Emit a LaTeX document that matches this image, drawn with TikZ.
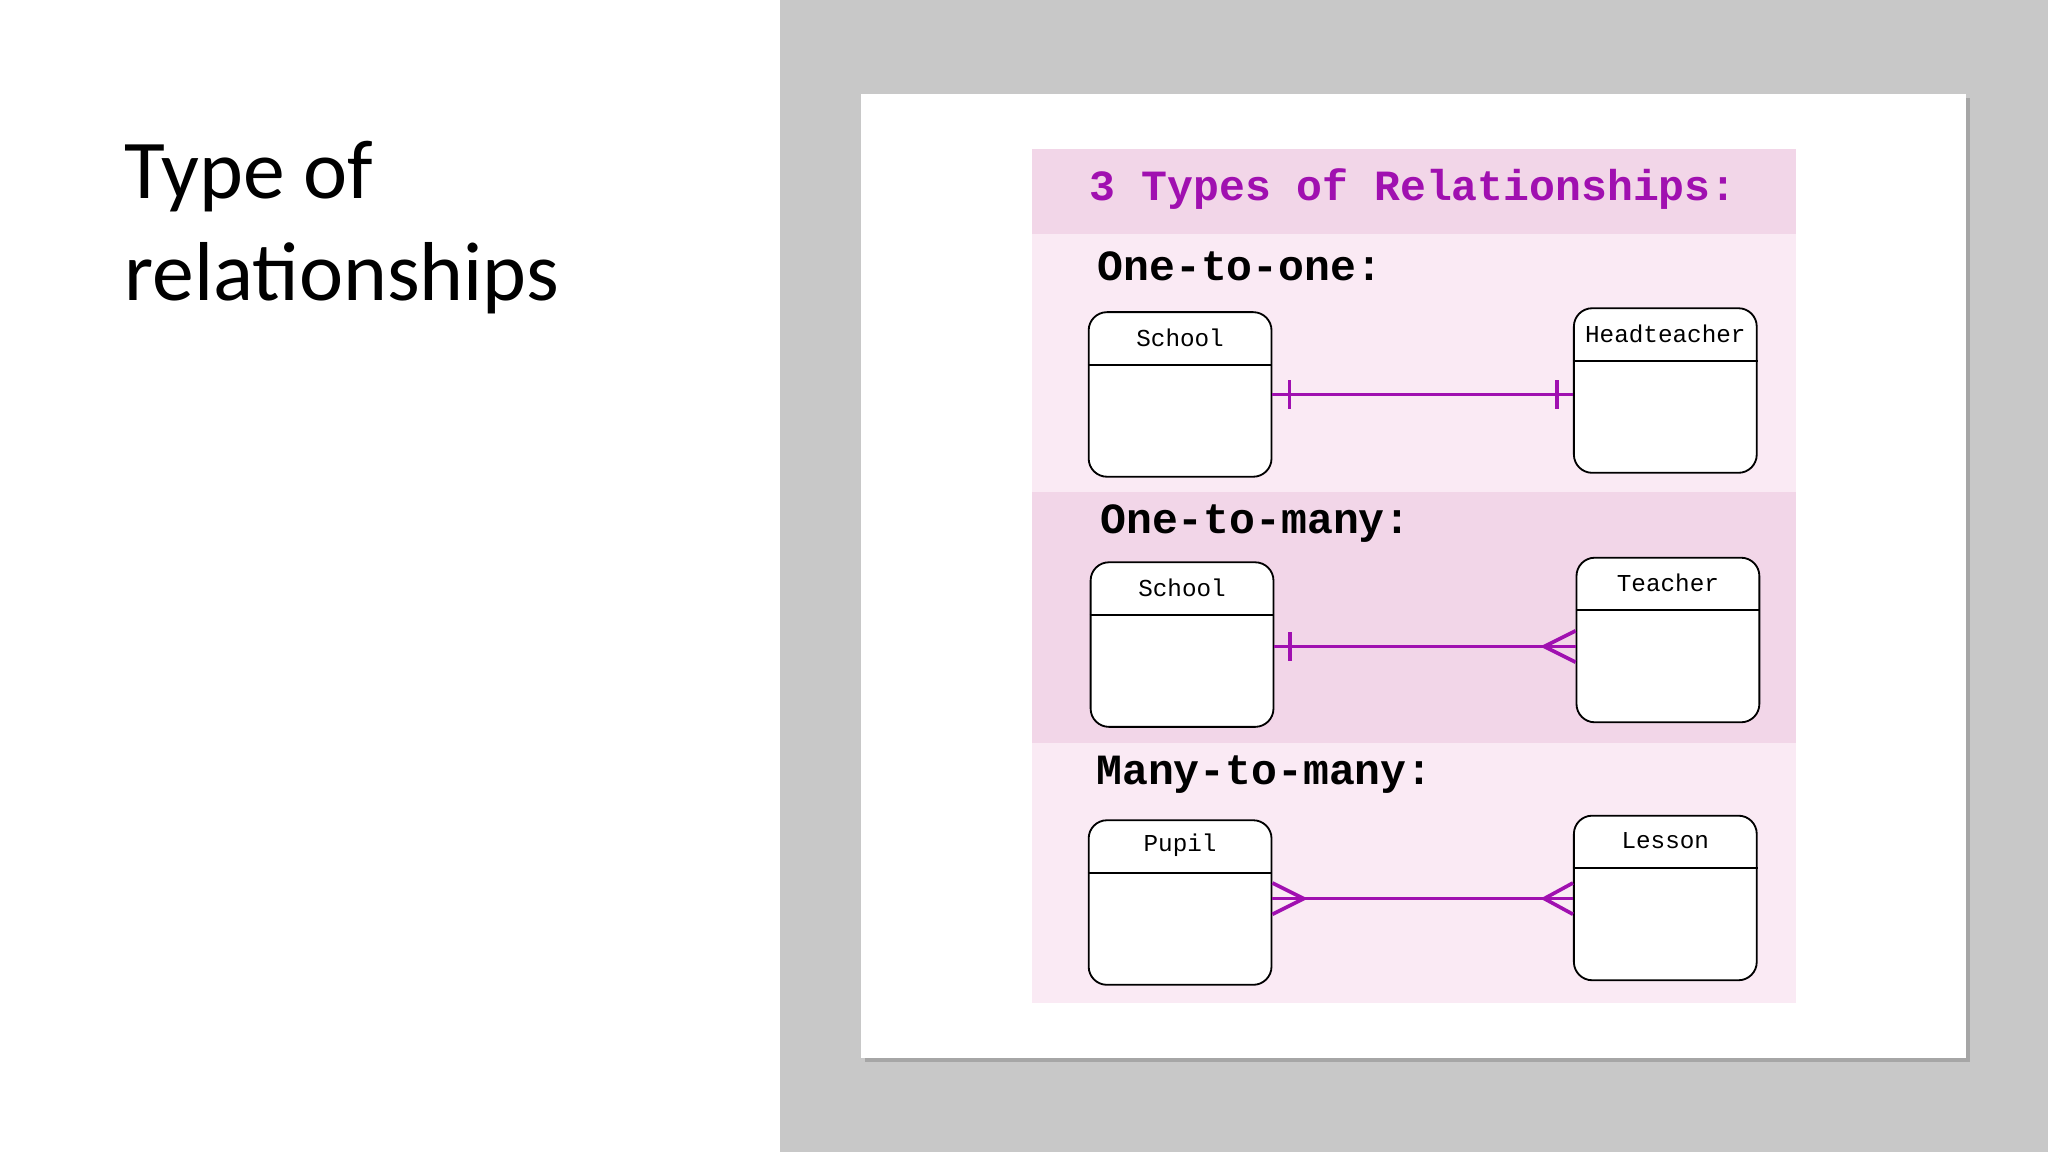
\documentclass[tikz,border=0pt]{standalone}
\usepackage{fontspec}
\setmainfont{Carlito}
\newfontfamily\monof{Liberation Mono}
\usetikzlibrary{calc}
\definecolor{pur}{RGB}{160,16,176}
\definecolor{pinkA}{RGB}{250,234,244}
\definecolor{pinkB}{RGB}{242,214,232}
\definecolor{grayb}{RGB}{200,200,200}
\tikzset{
 erbox/.style={draw=black,line width=0.7pt,rounded corners=7pt,fill=white,minimum width=70pt,minimum height=63pt,inner sep=0pt},
 boxlbl/.style={font=\monof\fontsize{9.3}{10}\selectfont,inner sep=0pt},
 rowlbl/.style={font=\monof\bfseries\fontsize{16.5}{18}\selectfont,anchor=west,inner sep=0pt},
 rel/.style={draw=pur,line width=1.4pt},
}
\newcommand{\erentity}[4]{% name, x, y, label
 \node[erbox] (#1) at (#2,#3) {};
 \draw[line width=0.7pt] ([yshift=-20.5pt]#1.north west) -- ([yshift=-20.5pt]#1.north east);
 \node[boxlbl] (#1l) at ([yshift=-10pt]#1.north) {#4};
}
\begin{document}
\begin{tikzpicture}[x=0.5pt,y=-0.5pt]
\useasboundingbox (0,0) rectangle (1568,882);
\fill[white] (0,0) rectangle (1568,882);
\fill[grayb] (597,0) rectangle (1568,882);
\fill[black!35] (662,75) rectangle (1508,813);
\fill[white] (659,72) rectangle (1505,810);
\node[anchor=north west,align=left,font=\fontsize{32}{39}\selectfont,inner sep=0pt] (title) at (95,108) {Type of\\relationships};
\fill[pinkB] (790,114) rectangle (1375,179);
\fill[pinkA] (790,179) rectangle (1375,377);
\fill[pinkB] (790,377) rectangle (1375,569);
\fill[pinkA] (790,569) rectangle (1375,768);
\node[font=\monof\bfseries\fontsize{16.5}{18}\selectfont,text=pur,inner sep=0pt] (hdr) at (1082,145) {3 Types of Relationships:};
\node[rowlbl] (r1) at (840,204) {One-to-one:};
\node[rowlbl] (r2) at (842,401) {One-to-many:};
\node[rowlbl] (r3) at (839,593) {Many-to-many:};
\erentity{s1}{903.5}{302}{School}
\erentity{h1}{1275}{299}{Headteacher}
\erentity{s2}{905}{493.5}{School}
\erentity{t2}{1277}{490}{Teacher}
\erentity{p3}{903.5}{691}{Pupil}
\erentity{l3}{1275}{687.5}{Lesson}
% row 1
\coordinate (a1) at (s1.east); \coordinate (b1) at (s1.east -| h1.west);
\draw[rel] (a1) -- (b1);
\draw[rel] ($(a1)+(13,-11)$) -- ($(a1)+(13,11)$);
\draw[rel] ($(b1)+(-12,-11)$) -- ($(b1)+(-12,11)$);
% row 2
\coordinate (a2) at ([yshift=-0.75pt]s2.east); \coordinate (b2) at (a2 -| t2.west);
\draw[rel] (a2) -- (b2);
\draw[rel] ($(a2)+(12,-11)$) -- ($(a2)+(12,11)$);
\draw[rel] ($(b2)+(0,-12)$) -- ($(b2)+(-24,0)$) -- ($(b2)+(0,12)$);
% row 3
\coordinate (a3) at ([yshift=1.5pt]p3.east); \coordinate (b3) at (a3 -| l3.west);
\draw[rel] (a3) -- (b3);
\draw[rel] ($(a3)+(0,-12)$) -- ($(a3)+(24,0)$) -- ($(a3)+(0,12)$);
\draw[rel] ($(b3)+(0,-12)$) -- ($(b3)+(-22,0)$) -- ($(b3)+(0,12)$);
\end{tikzpicture}
\end{document}
